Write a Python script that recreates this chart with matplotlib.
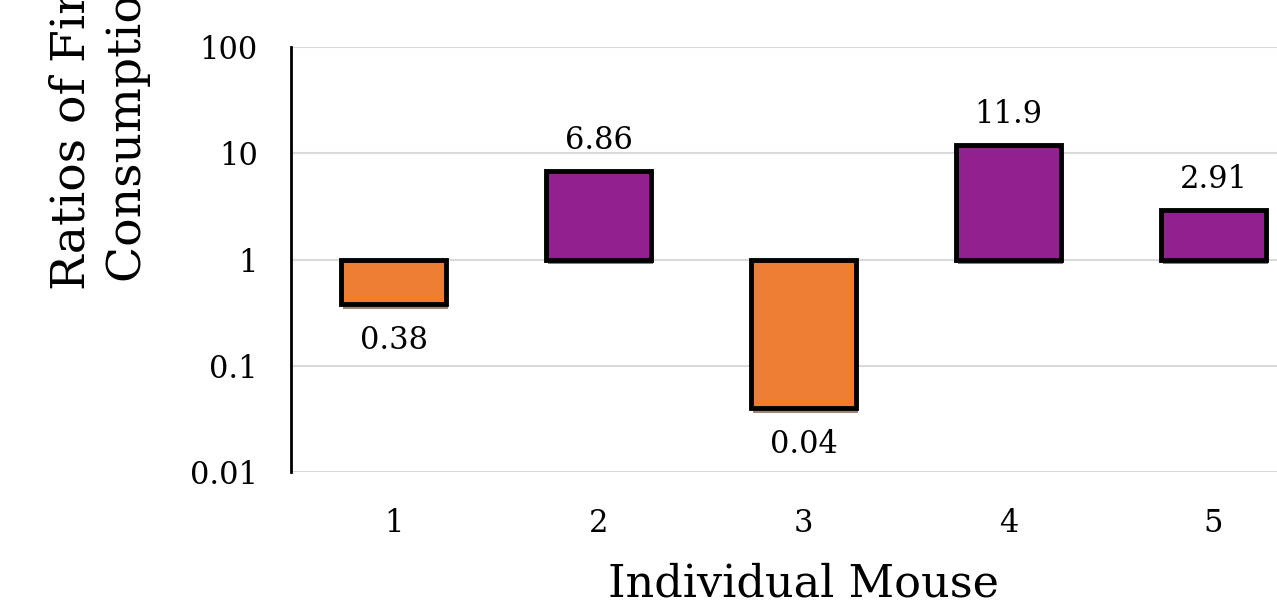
import matplotlib
matplotlib.use("Agg")
import matplotlib.pyplot as plt
import matplotlib.patheffects as pe
import numpy as np

mice = ["1", "2", "3", "4", "5"]
ratios = [0.38, 6.86, 0.04, 11.9, 2.91]
labels = ["0.38", "6.86", "0.04", "11.9", "2.91"]
ytick_vals = [0.01, 0.1, 1, 10, 100]
ytick_labels = ["0.01", "0.1", "1", "10", "100"]

ORANGE = "#ED7D31"
PURPLE = "#93208F"

plt.rcParams["font.family"] = ["DejaVu Serif"]

fig = plt.figure(figsize=(12.77, 6.05), dpi=100)
ax = fig.add_axes([291/1277, 1-472/605, (1316-291)/1277, (472-47)/605])

x = np.arange(len(mice))
colors = [ORANGE if r < 1 else PURPLE for r in ratios]
heights = [r - 1 for r in ratios]
bars = ax.bar(x, heights, bottom=1, width=0.51, color=colors, edgecolor="black",
              linewidth=3.5, zorder=3)
for b in bars:
    b.set_path_effects([pe.SimplePatchShadow(offset=(1.5, -3.5), alpha=0.55), pe.Normal()])

ax.set_yscale("log")
ax.set_ylim(0.01, 100)
ax.set_xlim(-0.5, len(mice) - 0.5)
ax.set_yticks(ytick_vals)
ax.set_yticklabels(ytick_labels)
ax.minorticks_off()
ax.set_xticks(x)
ax.set_xticklabels(mice)
ax.tick_params(axis="both", length=0, labelsize=22)
ax.tick_params(axis="y", pad=24)
ax.tick_params(axis="x", pad=26)
ax.grid(axis="y", color="#D9D9D9", linewidth=1.5, zorder=0)
for s in ["top", "right", "bottom"]:
    ax.spines[s].set_visible(False)
ax.spines["left"].set_linewidth(2)
ax.spines["left"].set_zorder(4)

for xi, r, lab in zip(x, ratios, labels):
    off = 22 if r >= 1 else -26
    ax.annotate(lab, (xi, r), xytext=(0, off), textcoords="offset points",
                ha="center", va="center", fontsize=22)

ax.set_xlabel("Individual Mouse", fontsize=32, labelpad=17)

fig.text(72/1277, 1-290/605, "Ratios of Final to Initial", rotation=90,
         ha="center", va="bottom", fontsize=34)
fig.text(128/1277, 1-282/605, "Consumption Rates", rotation=90,
         ha="center", va="bottom", fontsize=34)

fig.savefig("out.png", dpi=100)
